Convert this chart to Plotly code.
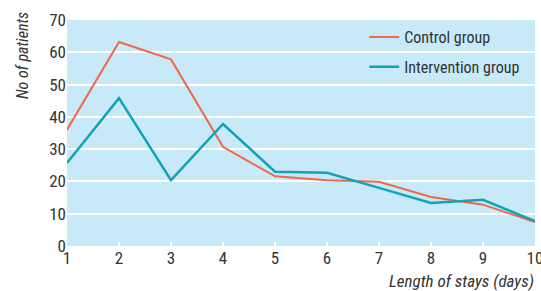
import plotly.graph_objects as go

days = [1, 2, 3, 4, 5, 6, 7, 8, 9, 10]
control = [36, 63.2, 57.8, 30.7, 21.6, 20.4, 19.9, 15.2, 12.8, 7.4]
intervention = [25.7, 45.8, 20.4, 37.8, 23, 22.7, 18, 13.3, 14.3, 7.7]
y_ticks = [0, 10, 20, 30, 40, 50, 60, 70]

FONT = "Liberation Sans Narrow, Roboto Condensed, Arial Narrow, Liberation Sans, sans-serif"

fig = go.Figure()
fig.add_trace(go.Scatter(x=days, y=control, mode="lines", name="Control group",
                         legendgroup="c",
                         line=dict(color="#f0674a", width=2)))
fig.add_trace(go.Scatter(x=days, y=intervention, mode="lines", name="Intervention group",
                         legendgroup="i",
                         line=dict(color="#12a3b5", width=2.5)))

fig.update_layout(
    width=541, height=291,
    margin=dict(l=67, r=6, t=20, b=45, autoexpand=False),
    paper_bgcolor="white", plot_bgcolor="#c8e9f8",
    font=dict(family=FONT, size=16, color="#333333"),
    showlegend=True,
    legend=dict(x=0.979, y=1.0, xanchor="right", yanchor="top",
                bgcolor="rgba(0,0,0,0)", font=dict(size=16, color="#333333"),
                tracegroupgap=6, traceorder="grouped"),
    xaxis=dict(range=[1, 10], tickvals=days, showgrid=False, zeroline=False,
               ticks="inside", tickcolor="white", ticklen=4, tickwidth=2,
               showline=False, tickfont=dict(size=17), ticklabeloverflow="allow",
               automargin=False),
    yaxis=dict(range=[0, 70], tickvals=y_ticks, showgrid=True, gridcolor="white",
               gridwidth=2, zeroline=False, showline=False, tickfont=dict(size=17),
               automargin=False),
    annotations=[
        dict(text="<i>No of patients</i>", x=-(67 - 22) / 468, y=(246 - 56) / 226,
             xref="paper", yref="paper", xanchor="center", yanchor="middle",
             showarrow=False, textangle=-90, font=dict(size=16, color="#333333")),
        dict(text="<i>Length of stays (days)</i>", x=1.003, y=-0.155, xref="paper", yref="paper",
             xanchor="right", yanchor="middle", showarrow=False,
             font=dict(size=17, color="#333333")),
    ],
)

fig.write_html("out.html", config={"displayModeBar": False},
               post_script="document.body.style.margin='0';")
